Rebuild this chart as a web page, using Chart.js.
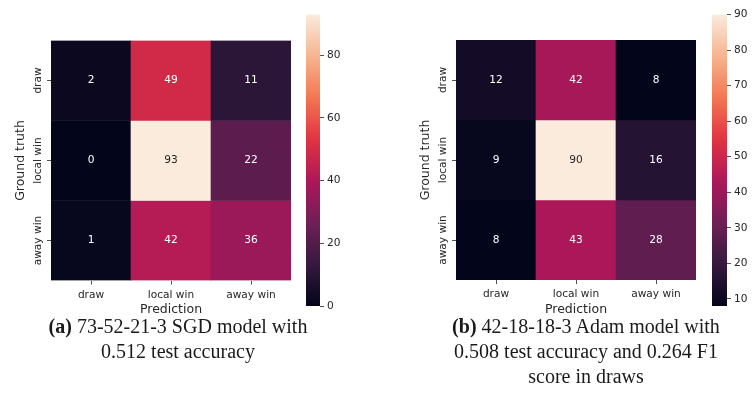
<!DOCTYPE html>
<html>
<head>
<meta charset="utf-8">
<script src="https://cdn.jsdelivr.net/npm/chart.js@4.4.1/dist/chart.umd.min.js"></script>
<style>
  html, body { margin: 0; padding: 0; background: #fff; }
  #page { position: relative; width: 756px; height: 420px; overflow: hidden; }
  canvas { position: absolute; top: 0; }
  .cap {
    position: absolute; text-align: center; white-space: nowrap;
    font-family: "Liberation Serif", serif; font-size: 20px; line-height: 25px; color: #1a1a1a;
  }
</style>
</head>
<body>
<div id="page">
  <canvas id="heatSgd" width="300" height="320" style="left:0px"></canvas>
  <canvas id="barSgd" width="60" height="320" style="left:296px"></canvas>
  <canvas id="heatAdam" width="300" height="320" style="left:405px"></canvas>
  <canvas id="barAdam" width="54" height="320" style="left:702px"></canvas>
  <div class="cap" style="left:28px; top:314px; width:300px;"><b>(a)</b> 73-52-21-3 SGD model with<br>0.512 test accuracy</div>
  <div class="cap" style="left:406px; top:314px; width:360px;"><b>(b)</b> 42-18-18-3 Adam model with<br>0.508 test accuracy and 0.264 F1<br>score in draws</div>
</div>
<script>
// Class names: rows are the true outcome, columns the predicted one
const truthLabels = ['draw', 'local win', 'away win'];
const predLabels = ['draw', 'local win', 'away win'];

// Confusion matrices (rows = ground truth, columns = prediction)
const sgdDraw = [2, 49, 11];
const sgdLocal = [0, 93, 22];
const sgdAway = [1, 42, 36];
const adamDraw = [12, 42, 8];
const adamLocal = [9, 90, 16];
const adamAway = [8, 43, 28];

// Colour bar tick values
const sgdBarTicks = [0, 20, 40, 60, 80];
const adamBarTicks = [10, 20, 30, 40, 50, 60, 70, 80, 90];

const INK = '#262626';
const FONT = '"DejaVu Sans", sans-serif';
const TICK_SIZE = 10.6;
const LABEL_SIZE = 12.5;

// "rocket" colour map, sampled at a few stops
const ROCKET = [
  [0, [3, 5, 26]],
  [1 / 7, [53, 25, 62]],
  [2 / 7, [112, 31, 87]],
  [3 / 7, [173, 23, 89]],
  [4 / 7, [225, 51, 66]],
  [5 / 7, [243, 118, 81]],
  [6 / 7, [246, 180, 143]],
  [1, [250, 235, 221]]
];

function rocketRgb(t) {
  t = Math.max(0, Math.min(1, t));
  for (let k = 1; k < ROCKET.length; k++) {
    const [t1, c1] = ROCKET[k];
    const [t0, c0] = ROCKET[k - 1];
    if (t <= t1) {
      const f = (t - t0) / (t1 - t0);
      return c0.map((c, i) => Math.round(c + (c1[i] - c) * f));
    }
  }
  return ROCKET[ROCKET.length - 1][1];
}
const rgbStr = c => `rgb(${c[0]},${c[1]},${c[2]})`;

function luminance(c) {
  const lin = c.map(v => {
    v /= 255;
    return v <= 0.03928 ? v / 12.92 : Math.pow((v + 0.055) / 1.055, 2.4);
  });
  return 0.2126 * lin[0] + 0.7152 * lin[1] + 0.0722 * lin[2];
}

// Writes each count in the middle of its cell
const cellLabels = {
  id: 'cellLabels',
  afterDatasetsDraw(chart) {
    const ctx = chart.ctx;
    ctx.save();
    ctx.font = `${TICK_SIZE}px ${FONT}`;
    ctx.textAlign = 'center';
    ctx.textBaseline = 'middle';
    chart.data.datasets.forEach((ds, i) => {
      chart.getDatasetMeta(i).data.forEach((bar, j) => {
        ctx.fillStyle = luminance(ds.cellRgb[j]) > 0.408 ? INK : '#ffffff';
        ctx.fillText(String(ds.counts[j]), bar.x, (bar.y + bar.base) / 2);
      });
    });
    ctx.restore();
  }
};

// Rotated row names beside the y ticks
const rowLabels = {
  id: 'rowLabels',
  afterDraw(chart) {
    const y = chart.scales.y;
    const ctx = chart.ctx;
    const x = chart.chartArea.left - 4 - 3.5;
    ctx.save();
    ctx.font = `${TICK_SIZE}px ${FONT}`;
    ctx.fillStyle = INK;
    ctx.textAlign = 'center';
    ctx.textBaseline = 'bottom';
    y.ticks.forEach((t, k) => {
      ctx.save();
      ctx.translate(x, y.getPixelForValue(t.value));
      ctx.rotate(-Math.PI / 2);
      ctx.fillText(truthLabels[k], 0, 0);
      ctx.restore();
    });
    ctx.restore();
  }
};

function heatmap(id, rows, top) {
  const all = rows.flat();
  const vmin = Math.min(...all), vmax = Math.max(...all);
  const datasets = rows.map((row, i) => {
    const rgb = row.map(v => rocketRgb((v - vmin) / (vmax - vmin)));
    return {
      label: truthLabels[i],
      counts: row,
      cellRgb: rgb,
      data: row.map(() => [i, i + 1]),
      backgroundColor: rgb.map(rgbStr),
      borderWidth: 0,
      borderSkipped: false,
      barPercentage: 1,
      categoryPercentage: 1
    };
  });
  new Chart(document.getElementById(id), {
    type: 'bar',
    data: { labels: predLabels, datasets },
    options: {
      responsive: false,
      animation: false,
      events: [],
      layout: { padding: { top: top, right: 9, left: 0, bottom: 0 } },
      plugins: { legend: { display: false }, tooltip: { enabled: false } },
      scales: {
        x: {
          stacked: true,
          afterFit: s => { s.height = 320 - top - 240; },
          grid: { offset: false, drawOnChartArea: false, drawTicks: true, tickLength: 4, color: INK, lineWidth: 0.8 },
          border: { display: false },
          ticks: { font: { family: FONT, size: TICK_SIZE }, color: INK, padding: 4, maxRotation: 0 },
          title: { display: true, text: 'Prediction', font: { family: FONT, size: LABEL_SIZE }, color: INK, padding: { top: 0, bottom: 3 } }
        },
        y: {
          type: 'linear',
          stacked: false,
          reverse: true,
          min: 0,
          max: 3,
          afterFit: s => { s.width = 51; },
          afterBuildTicks: s => { s.ticks = truthLabels.map((_, i) => ({ value: i + 0.5 })); },
          grid: { drawOnChartArea: false, drawTicks: true, tickLength: 4, color: INK, lineWidth: 0.8 },
          border: { display: false },
          ticks: { display: false },
          title: { display: true, text: 'Ground truth', font: { family: FONT, size: LABEL_SIZE }, color: INK, padding: { top: 13, bottom: 0 } }
        }
      }
    },
    plugins: [cellLabels, rowLabels]
  });
  return [vmin, vmax];
}

function colorBar(id, range, ticks, padLeft, barWidth, canvasWidth) {
  const [vmin, vmax] = range;
  new Chart(document.getElementById(id), {
    type: 'bar',
    data: {
      labels: [''],
      datasets: [{
        data: [[vmin, vmax]],
        borderWidth: 0,
        borderSkipped: false,
        barPercentage: 1,
        categoryPercentage: 1,
        backgroundColor: c => {
          const chart = c.chart;
          const y = chart.scales.y;
          if (!chart.chartArea || !y) return 'rgb(120,30,80)';
          const g = chart.ctx.createLinearGradient(0, y.getPixelForValue(vmin), 0, y.getPixelForValue(vmax));
          for (let k = 0; k <= 32; k++) g.addColorStop(k / 32, rgbStr(rocketRgb(k / 32)));
          return g;
        }
      }]
    },
    options: {
      responsive: false,
      animation: false,
      events: [],
      layout: { padding: { top: 14.5, bottom: 14, left: padLeft, right: 0 } },
      plugins: { legend: { display: false }, tooltip: { enabled: false } },
      scales: {
        x: { display: false },
        y: {
          position: 'right',
          min: vmin,
          max: vmax,
          afterFit: s => { s.width = canvasWidth - padLeft - barWidth; },
          afterBuildTicks: s => { s.ticks = ticks.map(v => ({ value: v })); },
          grid: { drawOnChartArea: false, drawTicks: true, tickLength: 4, color: INK, lineWidth: 0.8 },
          border: { display: false },
          ticks: { font: { family: FONT, size: TICK_SIZE }, color: INK, padding: 3 }
        }
      }
    }
  });
}

const sgdRange = heatmap('heatSgd', [sgdDraw, sgdLocal, sgdAway], 40.5);
colorBar('barSgd', sgdRange, sgdBarTicks, 10, 14, 60);
const adamRange = heatmap('heatAdam', [adamDraw, adamLocal, adamAway], 40);
colorBar('barAdam', adamRange, adamBarTicks, 10, 15, 54);
</script>
</body>
</html>
